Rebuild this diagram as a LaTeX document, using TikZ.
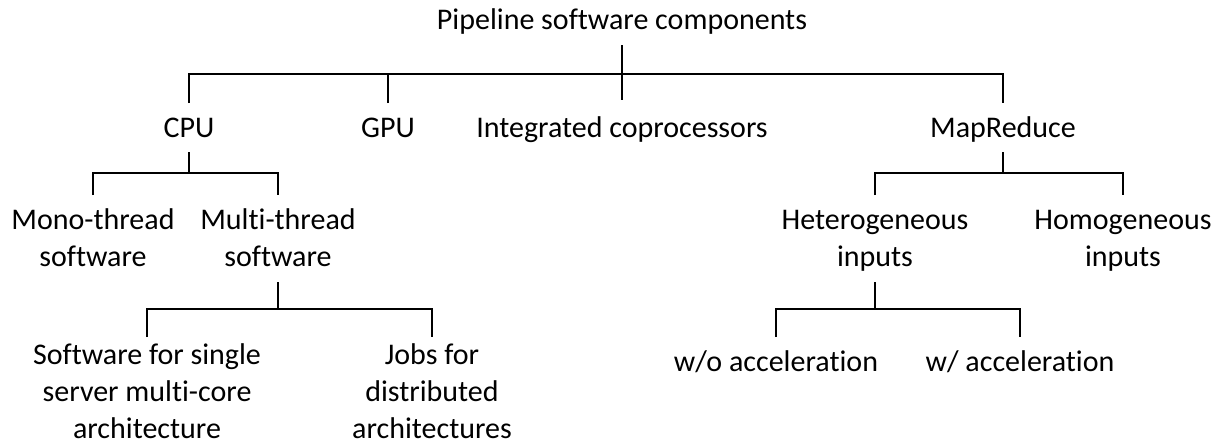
\documentclass[tikz,border=0pt]{standalone}
\usepackage{fontspec}
\setmainfont{Carlito}[Ligatures=NoCommon]
\usetikzlibrary{calc}

\tikzset{
  lbl/.style={inner sep=0pt, anchor=base, align=center, font=\fontsize{22.5}{27.5}\selectfont},
  link/.style={line width=0.8pt},
  trunk/.style={line width=1.3pt}
}

\begin{document}
\begin{tikzpicture}[x=0.75pt, y=-0.75pt]
  \useasboundingbox (0,0) rectangle (1215,446);

  \node[lbl] (root) at (622,29) {Pipeline software components};

  \node[lbl] (cpu) at (189,137) {CPU};
  \node[lbl] (gpu) at (388,137) {GPU};
  \node[lbl] (integ) at (622,137) {Integrated coprocessors};
  \node[lbl] (mapred) at (1003,137) {MapReduce};

  \node[lbl] (mono) at (93,266) {Mono-thread\\software};
  \node[lbl] (multi) at (278,266) {Multi-thread\\software};
  \node[lbl] (hetero) at (875,266) {Heterogeneous\\inputs};
  \node[lbl] (homo) at (1123,266) {Homogeneous\\inputs};

  \node[lbl] (single) at (147,438) {Software for single\\server multi-core\\architecture};
  \node[lbl] (jobs) at (432,438) {Jobs for\\distributed\\architectures};
  \node[lbl] (wo) at (776,371) {w/o acceleration};
  \node[lbl] (w) at (1020,371) {w/ acceleration};

  % level 1
  \draw[trunk] ($(root.base)+(0,16)$) -- ($(integ.base)+(0,-37)$);
  \draw[link] ($(cpu.base)+(0,-34)$) |- ($(mapred.base)+(0,-63)$) -- ($(mapred.base)+(0,-34)$);
  \draw[link] ($(gpu.base)+(0,-34)$) -- ($(gpu.base)+(0,-63)$);

  % CPU
  \draw[trunk] ($(cpu.base)+(0,15)$) -- ($(cpu.base)+(0,36)$);
  \draw[link] ($(mono.base)+(0,-71)$) |- ($(multi.base)+(0,-93)$) -- ($(multi.base)+(0,-71)$);

  % MapReduce
  \draw[trunk] ($(mapred.base)+(0,15)$) -- ($(mapred.base)+(0,36)$);
  \draw[link] ($(hetero.base)+(0,-71)$) |- ($(homo.base)+(0,-93)$) -- ($(homo.base)+(0,-71)$);

  % multi-thread
  \draw[trunk] ($(multi.base)+(0,16)$) -- ($(multi.base)+(0,43)$);
  \draw[link] ($(single.base)+(0,-101)$) |- ($(jobs.base)+(0,-129)$) -- ($(jobs.base)+(0,-101)$);

  % heterogeneous
  \draw[trunk] ($(hetero.base)+(0,16)$) -- ($(hetero.base)+(0,43)$);
  \draw[link] ($(wo.base)+(0,-34)$) |- ($(w.base)+(0,-62)$) -- ($(w.base)+(0,-34)$);
\end{tikzpicture}
\end{document}
